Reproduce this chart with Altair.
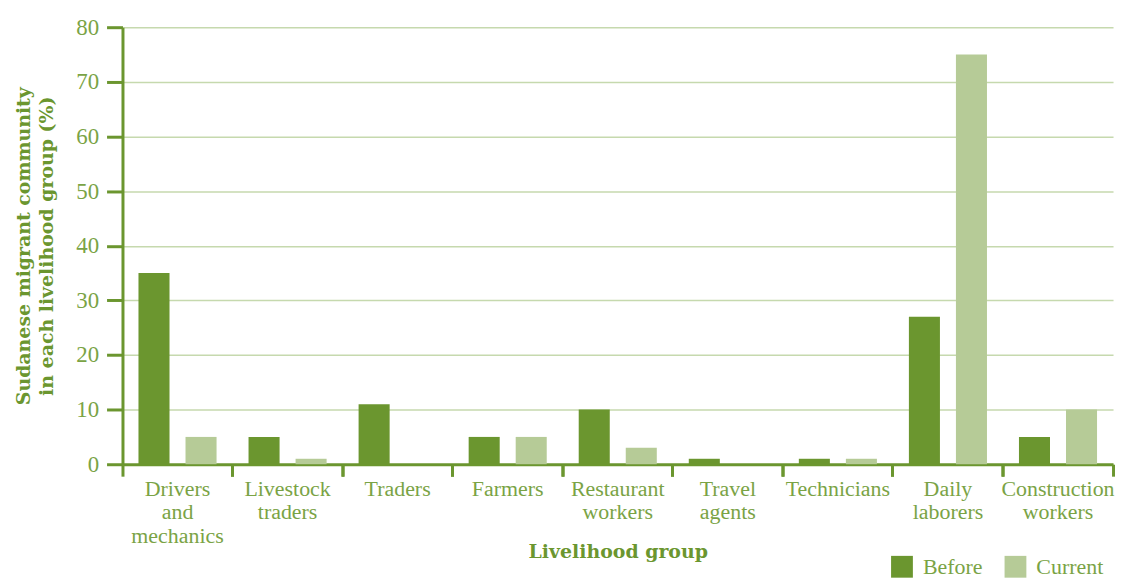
import altair as alt
import pandas as pd

categories = ["Drivers|and|mechanics", "Livestock|traders", "Traders", "Farmers",
              "Restaurant|workers", "Travel|agents", "Technicians", "Daily|laborers",
              "Construction|workers"]
before = [35, 5, 11, 5, 10, 1, 1, 27, 5]
current = [5, 1, 0, 5, 3, 0, 1, 75, 10]
series = ["Before", "Current"]
colors = ["#6b962f", "#b6cb97"]

rows = []
for c, b, cu in zip(categories, before, current):
    rows.append({"group": c, "series": "Before", "value": b})
    rows.append({"group": c, "series": "Current", "value": cu})
df = pd.DataFrame(rows)

DARK = "#6b962f"
LABEL = "#7aa345"
SERIF = "Liberation Serif"
TITLEFONT = "DejaVu Serif"

x_scale = alt.Scale(domain=categories, paddingInner=0, paddingOuter=0)
xo_scale = alt.Scale(domain=series, paddingInner=0.34, paddingOuter=0.34)
y_scale = alt.Scale(domain=[0, 80])
color_scale = alt.Scale(domain=series, range=colors)

bars = alt.Chart(df).mark_bar().encode(
    x=alt.X("group:N", scale=x_scale, sort=categories,
            axis=alt.Axis(title="Livelihood group", labelAngle=0, ticks=False,
                          labelExpr="split(datum.label, '|')",
                          labelFont=SERIF, labelFontSize=22, labelColor=LABEL,
                          labelPadding=14, labelLineHeight=24,
                          titleFont=TITLEFONT, titleFontWeight="bold", titleFontSize=19,
                          titleColor=DARK, titlePadding=-4,
                          domainColor=DARK, domainWidth=3)),
    xOffset=alt.XOffset("series:N", scale=xo_scale),
    y=alt.Y("value:Q", scale=y_scale,
            axis=alt.Axis(title=["Sudanese migrant community", "in each livelihood group (%)"],
                          values=list(range(0, 81, 10)), tickSize=16, tickColor=DARK,
                          tickWidth=3, domainColor=DARK, domainWidth=3,
                          labelFont=SERIF, labelFontSize=23, labelColor=LABEL,
                          labelPadding=8,
                          grid=True, gridColor="#c6d9ae", gridWidth=1.5,
                          titleFont=TITLEFONT, titleFontWeight="bold", titleFontSize=19,
                          titleColor=DARK, titlePadding=19, titleLineHeight=23)),
    color=alt.Color("series:N", scale=color_scale,
                    legend=alt.Legend(title=None, orient="none", legendX=772, legendY=531,
                                      direction="horizontal", symbolType="square",
                                      symbolSize=480, symbolStrokeWidth=0,
                                      labelFont=SERIF, labelFontSize=22, labelColor=LABEL,
                                      columnPadding=22, labelOffset=10)),
)


def tick_layer(pos):
    return alt.Chart(df).mark_bar(opacity=0).encode(
        x=alt.X("group:N", scale=x_scale, sort=categories,
                axis=alt.Axis(title=None, labels=False, domain=False, ticks=True,
                              orient="bottom", bandPosition=pos, tickSize=12,
                              tickColor=DARK, tickWidth=3)),
        xOffset=alt.XOffset("series:N", scale=xo_scale),
        y=alt.Y("value:Q", scale=y_scale, axis=None),
    )


chart = alt.layer(bars, tick_layer(0), tick_layer(1)).resolve_axis(
    x="independent", y="independent"
).properties(
    width=995, height=439,
    autosize=alt.AutoSizeParams(type="none"),
    padding={"left": 115, "top": 18, "right": 6, "bottom": 115},
).configure_view(stroke=None)

chart.save("out.html", embed_options={"renderer": "svg", "actions": False})
